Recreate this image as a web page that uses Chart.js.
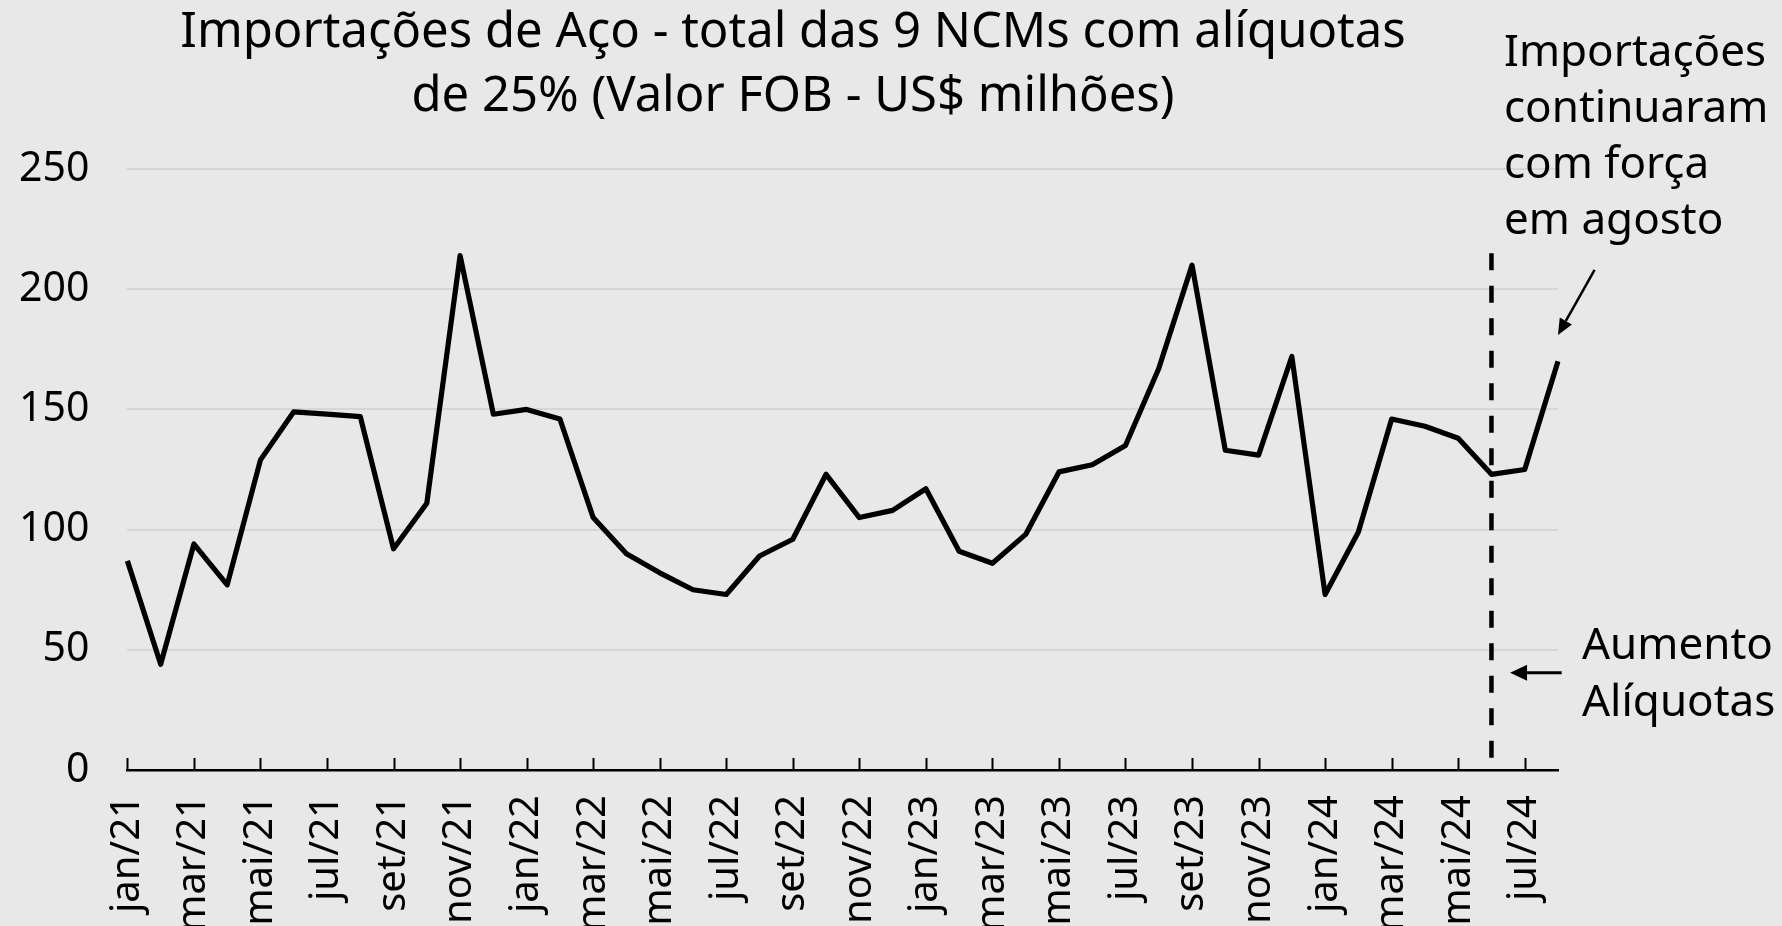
<!DOCTYPE html>
<html lang="pt-BR">
<head>
<meta charset="utf-8">
<title>Importações de Aço</title>
<script src="https://cdn.jsdelivr.net/npm/chart.js@4.4.1/dist/chart.umd.min.js"></script>
<style>
  html, body { margin: 0; padding: 0; background: #e8e8e8; }
  #wrap { width: 1782px; height: 926px; position: relative; }
</style>
</head>
<body>
<div id="wrap"><canvas id="steel_chart"></canvas></div>
<script>
// monthly labels jan/21 .. ago/24
const months = [
    'jan/21', 'fev/21', 'mar/21', 'abr/21', 'mai/21', 'jun/21', 'jul/21', 'ago/21', 'set/21', 'out/21', 'nov/21', 'dez/21',
    'jan/22', 'fev/22', 'mar/22', 'abr/22', 'mai/22', 'jun/22', 'jul/22', 'ago/22', 'set/22', 'out/22', 'nov/22', 'dez/22',
    'jan/23', 'fev/23', 'mar/23', 'abr/23', 'mai/23', 'jun/23', 'jul/23', 'ago/23', 'set/23', 'out/23', 'nov/23', 'dez/23',
    'jan/24', 'fev/24', 'mar/24', 'abr/24', 'mai/24', 'jun/24', 'jul/24', 'ago/24'
];

// Valor FOB, US$ milhões
const fobValues = [
    87, 44, 94, 77, 129, 149, 148, 147, 92, 111, 214, 148,
    150, 146, 105, 90, 82, 75, 73, 89, 96, 123, 105, 108,
    117, 91, 86, 98, 124, 127, 135, 167, 210, 133, 131, 172,
    73, 99, 146, 143, 138, 123, 125, 170
];

const yTicks = [0, 50, 100, 150, 200, 250];

const titleLines = ['Importações de Aço - total das 9 NCMs com alíquotas', 'de 25% (Valor FOB - US$ milhões)'];
const noteTop = ['Importações', 'continuaram', 'com força', 'em agosto'];
const noteRate = ['Aumento', 'Alíquotas'];

// month where the rate went up (dashed line)
const rateMonth = 'jun/24';

const FONT = "'Noto Sans', sans-serif";

function arrow(ctx, x1, y1, x2, y2, width, headLen, headHalf) {
    const ang = Math.atan2(y2 - y1, x2 - x1);
    const bx = x2 - headLen * Math.cos(ang);
    const by = y2 - headLen * Math.sin(ang);
    ctx.lineWidth = width;
    ctx.beginPath();
    ctx.moveTo(x1, y1);
    ctx.lineTo(bx, by);
    ctx.stroke();
    ctx.beginPath();
    ctx.moveTo(x2, y2);
    ctx.lineTo(bx + headHalf * Math.sin(ang), by - headHalf * Math.cos(ang));
    ctx.lineTo(bx - headHalf * Math.sin(ang), by + headHalf * Math.cos(ang));
    ctx.closePath();
    ctx.fill();
}

const extras = {
    id: 'extras',
    afterDraw(chart) {
        const ctx = chart.ctx;
        const area = chart.chartArea;
        const x = chart.scales.x;
        const y = chart.scales.y;
        ctx.save();
        ctx.strokeStyle = '#000';
        ctx.fillStyle = '#000';

        // small tick marks pointing up, every 2 months
        ctx.lineWidth = 2;
        for (let i = 0; i < months.length; i += 2) {
            const px = Math.round(x.getPixelForValue(i)) + 0.5;
            ctx.beginPath();
            ctx.moveTo(px, area.bottom);
            ctx.lineTo(px, area.bottom - 12);
            ctx.stroke();
        }

        // dashed line at the rate increase
        const dx = x.getPixelForValue(months.indexOf(rateMonth));
        ctx.lineWidth = 4.5;
        ctx.setLineDash([17, 15.5]);
        ctx.beginPath();
        ctx.moveTo(dx, y.getPixelForValue(215));
        ctx.lineTo(dx, y.getPixelForValue(4));
        ctx.stroke();
        ctx.setLineDash([]);

        // arrows
        arrow(ctx, x.getPixelForValue(44.1), y.getPixelForValue(208), x.getPixelForValue(43.0), y.getPixelForValue(181), 2.5, 16, 7);
        arrow(ctx, x.getPixelForValue(43.11), y.getPixelForValue(40.5), x.getPixelForValue(41.56), y.getPixelForValue(40.5), 3, 17, 8);

        // title
        ctx.textAlign = 'center';
        ctx.textBaseline = 'alphabetic';
        ctx.font = '49px ' + FONT;
        ctx.fillText(titleLines[0], 793, 47);
        ctx.fillText(titleLines[1], 793, 111);

        // notes
        ctx.textAlign = 'left';
        ctx.font = '44px ' + FONT;
        noteTop.forEach((t, i) => ctx.fillText(t, 1504, 66 + i * 56));
        noteRate.forEach((t, i) => ctx.fillText(t, 1582, 659 + i * 57));
        ctx.restore();
    }
};

Chart.defaults.font.family = FONT;
Chart.defaults.color = '#000';

const ctx_steel = document.getElementById('steel_chart');
const steelChart = new Chart(ctx_steel, {
    type: 'line',
    data: {
        labels: months,
        datasets: [{
            label: 'Valor FOB',
            data: fobValues,
            borderColor: '#000',
            borderWidth: 5.2,
            borderJoinStyle: 'round',
            pointRadius: 0,
            tension: 0
        }]
    },
    options: {
        responsive: true,
        maintainAspectRatio: false,
        animation: false,
        events: [],
        layout: {
            padding: { top: 169, right: 224, bottom: 0, left: 0 }
        },
        plugins: {
            legend: { display: false },
            title: { display: false },
            tooltip: { enabled: false }
        },
        scales: {
            x: {
                offset: false,
                grid: { display: false, drawTicks: false },
                border: { display: true, color: '#000', width: 2.5 },
                ticks: {
                    autoSkip: false,
                    minRotation: 90,
                    maxRotation: 90,
                    padding: 25,
                    font: { size: 40 },
                    color: '#000',
                    callback: function(val, index) {
                        return index % 2 === 0 ? months[index] : '';
                    }
                },
                afterFit: function(scale) { scale.height = 156; }
            },
            y: {
                min: yTicks[0],
                max: yTicks[yTicks.length - 1],
                grid: { color: '#d6d6d6', lineWidth: 2, drawTicks: false },
                border: { display: false },
                ticks: {
                    stepSize: 50,
                    padding: 38,
                    font: { size: 41 },
                    color: '#000'
                },
                afterFit: function(scale) { scale.width = 127.4; }
            }
        }
    },
    plugins: [extras]
});
</script>
</body>
</html>
